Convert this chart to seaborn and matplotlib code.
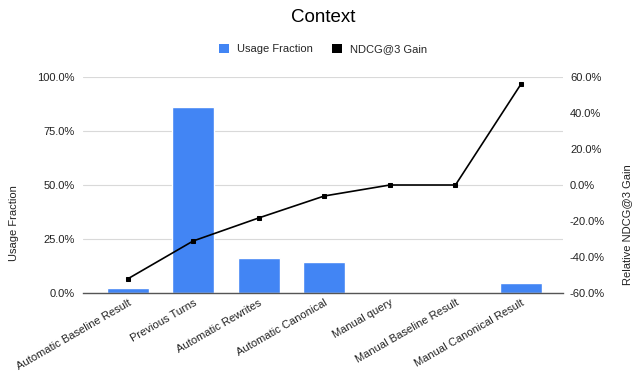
import matplotlib
matplotlib.use("Agg")
import matplotlib.pyplot as plt
import seaborn as sns
import pandas as pd
from matplotlib.ticker import FuncFormatter
from matplotlib.patches import Patch

categories = ["Automatic Baseline Result", "Previous Turns", "Automatic Rewrites",
              "Automatic Canonical", "Manual query", "Manual Baseline Result",
              "Manual Canonical Result"]
usage_fraction = [2.3, 86.1, 16.2, 14.4, 0.2, 0.2, 4.6]
ndcg_gain = [-52.2, -31.1, -18.3, -6.1, 0.0, 0.0, 56.1]

sns.set_style("white")
plt.rcParams['font.family'] = ['Liberation Sans', 'DejaVu Sans']

df = pd.DataFrame({"cat": categories, "usage": usage_fraction, "gain": ndcg_gain})

W, H = 633, 377
fig = plt.figure(figsize=(W / 100, H / 100), dpi=100)
L, R, T, B = 83, 563, 77, 293
ax = fig.add_axes([L / W, 1 - B / H, (R - L) / W, (B - T) / H])

sns.barplot(data=df, x="cat", y="usage", color="#4285f4", width=0.64, ax=ax,
            saturation=1, zorder=2)
ax.set_ylim(0, 100)
ax.set_xlim(-0.68, 6.64)
ax.set_yticks([0, 25, 50, 75, 100])
ax.yaxis.set_major_formatter(FuncFormatter(lambda v, p: f"{v:.1f}%"))
ax.grid(axis="y", color="#d9d9d9", linewidth=0.8, zorder=0)
ax.set_axisbelow(True)
for s in ["top", "right", "left"]:
    ax.spines[s].set_visible(False)
ax.spines["bottom"].set_color("#555555")
ax.spines["bottom"].set_linewidth(1.0)
ax.spines["bottom"].set_zorder(3)
ax.tick_params(axis="both", length=0, labelsize=8, colors="#222222")
ax.tick_params(axis="y", pad=6)
ax.set_xlabel("")
ax.set_ylabel("Usage Fraction", fontsize=8, color="#222222")
ax.yaxis.set_label_coords((19 - L) / (R - L), (B - 223) / (B - T))
plt.setp(ax.get_xticklabels(), rotation=30, ha="right", rotation_mode="anchor")

ax2 = ax.twinx()
sns.lineplot(data=df, x="cat", y="gain", color="black", marker="s", markersize=2.6,
             markeredgecolor="black", linewidth=1.2, ax=ax2, sort=False, zorder=4)
ax2.set_ylim(-60, 60)
ax2.set_yticks([-60, -40, -20, 0, 20, 40, 60])
ax2.yaxis.set_major_formatter(FuncFormatter(lambda v, p: f"{v:.1f}%"))
for s in ["top", "right", "left", "bottom"]:
    ax2.spines[s].set_visible(False)
ax2.tick_params(axis="y", length=0, labelsize=8, colors="#222222", pad=5)
ax2.set_ylabel("Relative NDCG@3 Gain", fontsize=8, color="#222222")
ax2.yaxis.set_label_coords((622 - L) / (R - L), (B - 225) / (B - T))
ax2.set_xlabel("")

cx = (L + R) / 2 / W
fig.text(cx, 1 - 18 / H, "Context", fontsize=13.5, ha="center", va="center",
         color="#000000")

handles = [Patch(facecolor="#4285f4", edgecolor="none"),
           Patch(facecolor="black", edgecolor="none")]
fig.legend(handles, ["Usage Fraction", "NDCG@3 Gain"], loc="center",
           bbox_to_anchor=(cx, 1 - 49 / H), ncol=2, frameon=False, fontsize=8,
           handlelength=0.9, handleheight=0.9, columnspacing=1.7, handletextpad=0.7)

fig.savefig("out.png", dpi=100)
